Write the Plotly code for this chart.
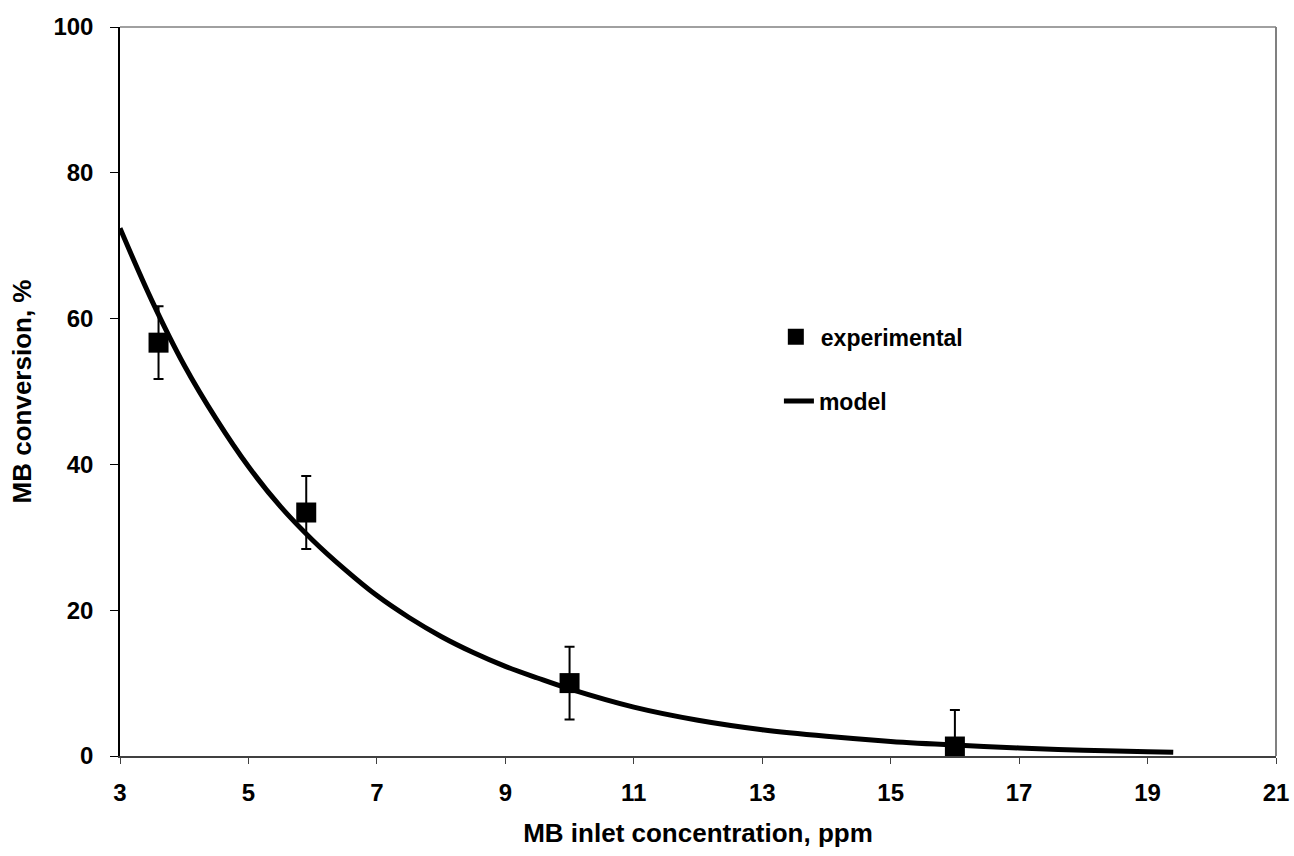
import plotly.graph_objects as go

# experimental data
exp_x = [3.6, 5.9, 10.0, 16.0]
exp_y = [56.7, 33.4, 10.0, 1.3]
exp_err = [5.0, 5.0, 5.0, 5.0]

# model curve
model_x = [3, 3.5, 4, 4.5, 5, 5.5, 6, 6.5, 7, 7.5, 8, 8.5, 9, 9.5, 10,
           11, 12, 13, 14, 15, 16, 17, 18, 19, 19.4]
model_y = [72.4, 62.4, 53.6, 46.2, 39.7, 34.2, 29.6, 25.6, 22.0, 19.0, 16.4,
           14.2, 12.3, 10.7, 9.2, 6.7, 4.9, 3.6, 2.7, 2.0, 1.5, 1.1, 0.8, 0.6, 0.5]

x_ticks = [3, 5, 7, 9, 11, 13, 15, 17, 19, 21]
y_ticks = [0, 20, 40, 60, 80, 100]

FONT = "Liberation Sans, Arial, sans-serif"

fig = go.Figure()
fig.add_trace(go.Scatter(
    x=model_x, y=model_y, mode="lines", name="model",
    line=dict(color="black", width=5, shape="spline"),
    legend="legend2", cliponaxis=False,
))
fig.add_trace(go.Scatter(
    x=exp_x, y=exp_y, mode="markers", name="experimental",
    marker=dict(symbol="square", size=20, color="black"),
    error_y=dict(type="data", array=exp_err, visible=True,
                 color="black", thickness=2, width=5),
    legend="legend",
))

fig.update_layout(
    width=1294, height=856,
    margin=dict(l=120, r=18, t=27, b=100, autoexpand=False),
    paper_bgcolor="white", plot_bgcolor="white",
    font=dict(family=FONT, size=23, color="black", weight="bold"),
    showlegend=True,
    legend=dict(x=0.563, y=0.575, xref="paper", yref="paper",
                xanchor="left", yanchor="middle",
                bgcolor="rgba(0,0,0,0)", font=dict(size=23, weight="bold"),
                itemwidth=40),
    legend2=dict(x=0.57, y=0.487, xref="paper", yref="paper",
                 xanchor="left", yanchor="middle",
                 bgcolor="rgba(0,0,0,0)", font=dict(size=23, weight="bold"),
                 itemwidth=30),
    xaxis=dict(
        range=[3, 21], tickvals=x_ticks, ticktext=[str(v) for v in x_ticks],
        ticks="outside", ticklen=6, tickwidth=1, tickcolor="#404040",
        showline=True, linecolor="#404040", linewidth=2,
        showgrid=False, zeroline=False, ticklabelstandoff=8, automargin=False,
        tickfont=dict(family=FONT, size=24, weight="bold"),
        title=dict(text="MB inlet concentration, ppm",
                   font=dict(family=FONT, size=26, weight="bold"), standoff=19),
    ),
    yaxis=dict(
        range=[0, 100], tickvals=y_ticks,
        ticks="outside", ticklen=8, tickwidth=1, tickcolor="black",
        showline=True, linecolor="black", linewidth=1.5,
        showgrid=False, zeroline=False, ticklabelstandoff=12, automargin=False,
        tickfont=dict(family=FONT, size=24, weight="bold"),
        title=dict(text="MB conversion, %",
                   font=dict(family=FONT, size=26, weight="bold"), standoff=14),
    ),
    shapes=[
        dict(type="line", xref="paper", yref="paper", x0=0, x1=1, y0=1, y1=1,
             line=dict(color="#808080", width=1.5)),
        dict(type="line", xref="paper", yref="paper", x0=1, x1=1, y0=0, y1=1,
             line=dict(color="#808080", width=2)),
    ],
)

fig.write_html("out.html")
